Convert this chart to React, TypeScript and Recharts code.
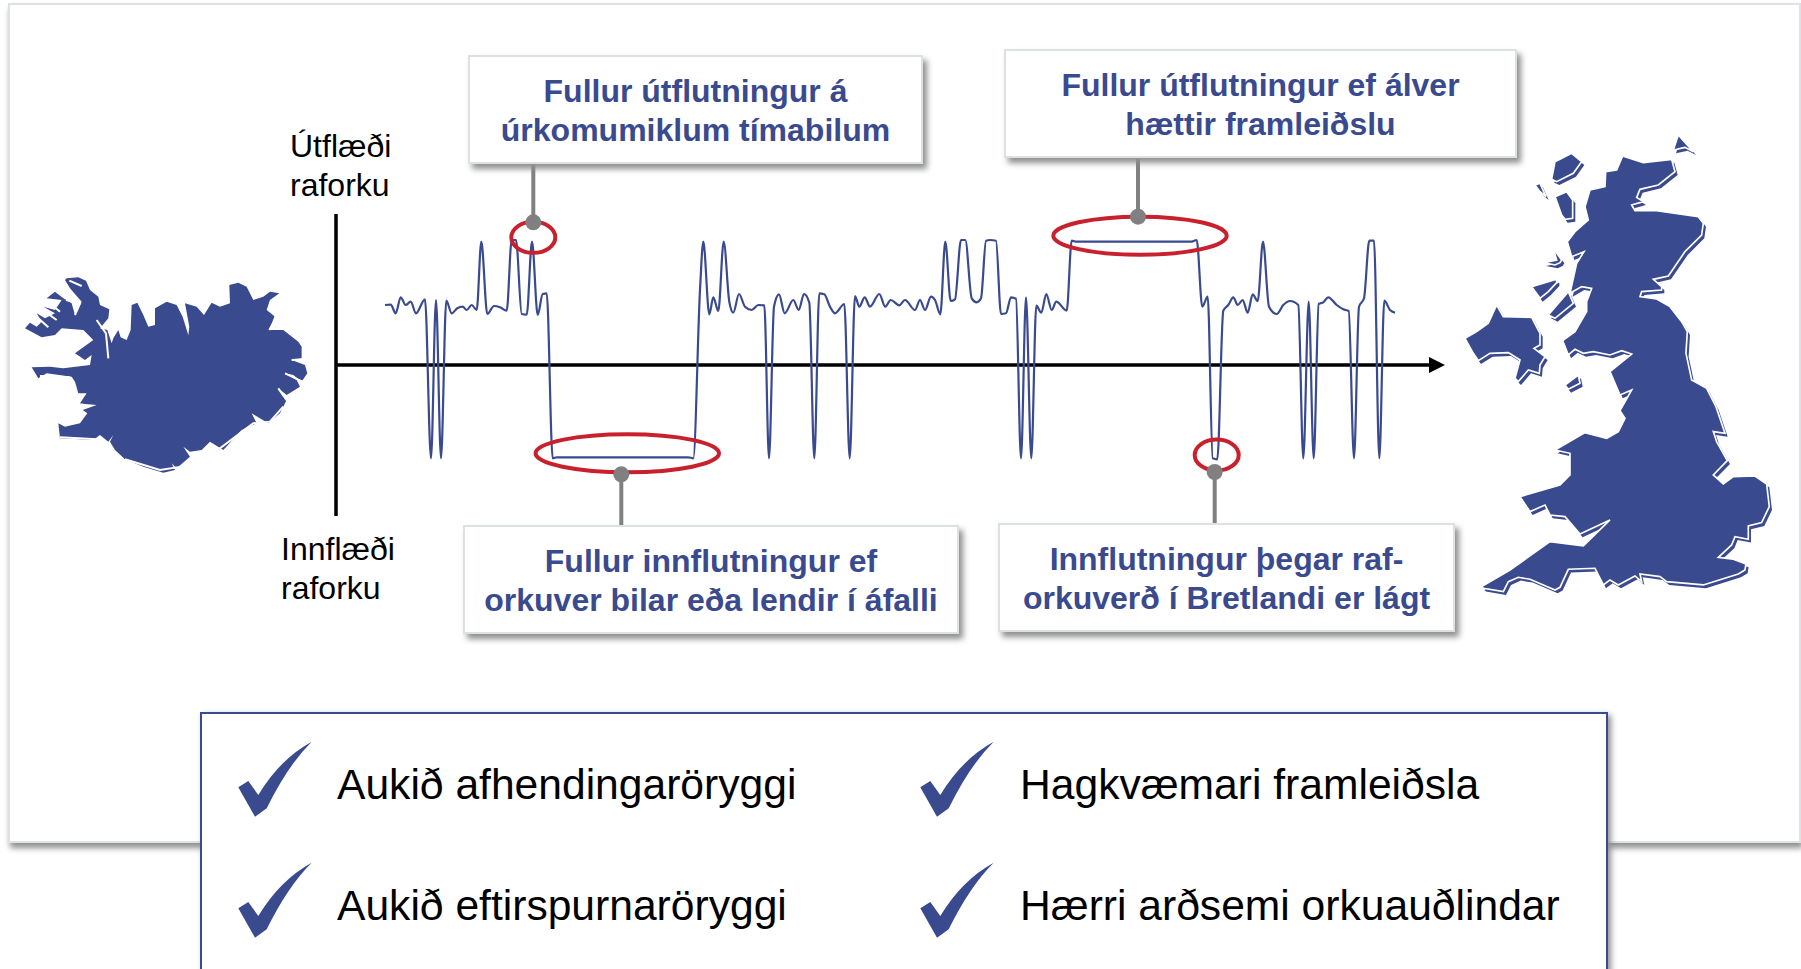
import { ComposedChart, Line, XAxis, YAxis, ReferenceLine, ReferenceDot } from 'recharts';

const hours = [
  49, 54.7, 59.7, 64.7, 69.7, 74.7, 80, 89, 95, 100, 105, 110.3, 115.7, 121.3, 126.7, 130.7, 135.7, 140.7, 145.3, 151.3,
  158, 164, 170.7, 175.7, 180, 185.7, 190.7, 196, 201.7, 206.7, 210.7, 216.7, 220.7, 352.3, 357.3, 364, 367.3, 373.3,
  377.3, 382.3, 387.7, 393.3, 397.3, 403, 409, 415.7, 422.3, 428.3, 433, 438, 443, 448.7, 457.3, 462.7, 468, 473.3,
  478.3, 483.3, 488.3, 494, 499, 508.3, 513.7, 519, 523.3, 528.7, 534, 543.3, 549.3, 554.7, 563.3, 569, 579, 584, 589,
  595, 599, 604.3, 609.3, 614.7, 619, 625, 629.3, 635.7, 640.7, 645, 650, 654, 660, 665, 670, 675, 680, 685, 690, 695.3,
  700.3, 705.3, 710.3, 715.7, 720.3, 730.7, 735.7, 740.7, 855.7, 860.7, 866.3, 871.7, 876.7, 881.3, 887.3, 892.3, 897.3,
  901.7, 906.7, 911.7, 916.7, 921.7, 927, 933, 940.7, 947.3, 954, 962.3, 967.3, 972.7, 977.7, 982.7, 987.3, 992.3,
  1000.7, 1007.3, 1012.7, 1018, 1023, 1028, 1033.3, 1038, 1043.3, 1048.3, 1054, 1059,
];

const balance = [
  60, 60.3, 51.7, 67.7, 60, 63.3, 51.7, 65.7, -93.3, 65, -93.3, 64.3, 51.7, 56.7, 58.3, 55, 60, 55, 123.3, 51,
  59, 57.7, 54.3, 125, 125, 51, 50.3, 123.3, 50, 71, 71.7, -93.3, -92.3, -92.3, -93.3, 75, 123.3, 50.7,
  67.7, 54, 123.3, 63.3, 52.3, 71, 58.3, 55, 60, 59.7, -93.3, 58.3, 70.7, 51.7, 65, 55, 71, 62.3,
  -93.3, 71.7, 70.7, 58.3, 51.7, 61, -93.3, 69, 58.3, 67.7, 58.3, 71, 58.3, 65, 59.7, 65, 55, 65, 55,
  68.3, 65, 50.7, 123.3, 64, 65.7, 125, 125, 66.7, 62.7, 66.7, 124.3, 125, 124.3, 51, 51.7, 67.7, 66.3, -93.3, 67.7, -93.3,
  59.3, 52.3, 71, 55, 63.3, 54.3, 124.3, 123.3, 123.3, 125, 58.3, 68.3, -93.3, -94.3, 54.3, 60, 67.7,
  60, 65, 52.3, 70.7, 64, 123.3, 58.3, 51, 60, 64, 60, -93.3, 63.3, -93.3, 61, 62.7, 67.7,
  60, 55.7, 54, -93.3, 58.3, 66.7, 124.3, 124.3, -93.3, 64.3, 55, 52.3,
];

const flowData = hours.map((hour, i) => ({ hour, balance: balance[i] }));

const BLUE = '#3a4a8f';
const RED = '#c8202c';
const GREY = '#808080';

const iceland =
  'M200,85 L235,82 L258,92 L270,120 L295,140 L300,165 L328,178 L325,205 L300,235 L322,240 L335,280 L340,265 L355,240 L362,262 L380,270 L392,240 L395,165 L412,158 L430,195 L445,230 L465,225 L465,175 L500,155 L530,165 L548,200 L565,255 L568,230 L555,160 L590,170 L612,195 L635,158 L660,170 L690,160 L688,105 L715,98 L740,110 L760,150 L790,140 L810,125 L838,130 L810,150 L800,180 L825,195 L808,240 L850,240 L895,275 L905,290 L905,325 L875,330 L915,345 L922,370 L905,395 L880,375 L855,370 L890,390 L900,410 L860,435 L835,415 L860,450 L840,490 L805,520 L755,490 L770,520 L725,540 L670,600 L630,575 L605,600 L570,605 L550,590 L570,620 L530,655 L515,640 L525,660 L490,668 L430,650 L375,628 L345,600 L330,575 L340,555 L325,575 L300,555 L280,570 L180,565 L175,520 L195,530 L240,520 L262,490 L248,480 L290,465 L255,462 L240,460 L260,430 L235,430 L225,395 L215,380 L140,370 L115,385 L95,352 L150,350 L190,355 L270,345 L275,315 L255,330 L225,310 L280,270 L250,240 L185,235 L165,255 L125,262 L75,235 L90,218 L110,230 L125,215 L110,190 L135,205 L165,190 L130,170 L165,180 L185,150 L140,145 L165,125 L190,145 L215,160 L225,195 L245,155 L210,115 L195,90 Z';

const icelandInlets = [
  'M375,628 L480,660 L545,650 L590,610 L660,595 L760,520 L810,515 L850,470',
  'M208,92 L245,108',
  'M198,150 L240,160 L225,195',
  'M150,160 L180,185',
  'M135,185 L170,210',
  'M110,200 L145,232',
  'M290,210 L318,250 L325,325',
  'M805,180 L830,200 L808,240',
  'M875,330 L912,328',
  'M855,370 L908,395',
  'M835,415 L868,462',
  'M120,378 L210,382',
  'M180,562 L290,568',
];

const britain = [
  'M548,108 L610,128 L695,118 L705,155 L655,195 L600,208 L590,232 L610,245 L575,255 L585,272 L650,272 L775,290 L790,310 L785,345 L735,395 L685,468 L640,478 L665,500 L665,510 L605,515 L600,530 L650,537 L690,560 L725,605 L742,635 L738,700 L755,780 L800,805 L828,860 L855,940 L820,935 L830,965 L862,1022 L820,1065 L850,1092 L880,1070 L945,1068 L980,1092 L988,1160 L965,1208 L925,1218 L925,1258 L885,1250 L875,1275 L835,1312 L880,1318 L918,1332 L915,1350 L895,1362 L790,1395 L680,1385 L660,1370 L600,1362 L605,1385 L585,1368 L535,1395 L510,1380 L490,1395 L465,1345 L385,1348 L360,1402 L345,1410 L270,1378 L235,1372 L205,1385 L190,1415 L130,1405 L125,1400 L210,1350 L330,1265 L430,1278 L510,1200 L420,1242 L375,1190 L330,1185 L315,1155 L270,1175 L240,1130 L360,1095 L390,1065 L390,1000 L345,990 L435,938 L500,955 L535,935 L555,895 L540,872 L575,810 L540,825 L510,755 L575,702 L545,692 L510,705 L460,695 L430,700 L405,688 L385,705 L368,662 L405,635 L440,575 L440,545 L455,505 L425,500 L390,520 L410,430 L432,395 L395,410 L382,365 L405,335 L445,300 L435,260 L450,210 L495,200 L497,155 L530,150 Z',
  'M75,655 L110,635 L145,610 L170,555 L190,590 L275,592 L300,640 L300,675 L282,685 L315,710 L300,735 L298,760 L265,750 L235,785 L225,775 L240,720 L205,698 L150,700 L115,722 L100,700 Z',
  'M345,125 L395,100 L425,125 L400,160 L350,185 L335,178 Z',
  'M345,230 L380,215 L398,240 L398,295 L375,298 L365,285 Z',
  'M285,195 L300,190 L318,230 L300,215 Z',
  'M715,45 L760,95 L735,82 L700,90 Z',
  'M340,385 L365,420 L360,428 L345,435 L310,428 L350,420 Z',
  'M275,500 L310,490 L350,478 L350,488 L325,515 L300,535 Z',
  'M325,585 L385,515 L400,550 L345,595 Z',
  'M375,795 L415,765 L420,790 L385,808 Z',
];

const callouts = [
  { lines: ['Fullur útflutningur á', 'úrkomumiklum tímabilum'], left: 468, top: 55, width: 455, height: 109 },
  { lines: ['Fullur útflutningur ef álver', 'hættir framleiðslu'], left: 1004, top: 49, width: 513, height: 109 },
  { lines: ['Fullur innflutningur ef', 'orkuver bilar eða lendir í áfalli'], left: 463, top: 525, width: 496, height: 109 },
  { lines: ['Innflutningur þegar raf-', 'orkuverð í Bretlandi er lágt'], left: 998, top: 523, width: 457, height: 109 },
];

const rings = [
  { hour: 197.3, level: 127.7, rx: 22, ry: 15.5, pinX: 0, pinY: -15, stem: -58 },
  { hour: 291.3, level: -88.3, rx: 91.7, ry: 19, pinX: -6, pinY: 21, stem: 52 },
  { hour: 804, level: 129.3, rx: 86.7, ry: 19, pinX: -2, pinY: -19, stem: -58 },
  { hour: 880.7, level: -90, rx: 22, ry: 15.5, pinX: -2, pinY: 17, stem: 52 },
];

const benefits = [
  { text: 'Aukið afhendingaröryggi', col: 0, row: 0 },
  { text: 'Hagkvæmari framleiðsla', col: 1, row: 0 },
  { text: 'Aukið eftirspurnaröryggi', col: 0, row: 1 },
  { text: 'Hærri arðsemi orkuauðlindar', col: 1, row: 1 },
];

const FONT = '"Liberation Sans", Arial, sans-serif';

function Ring({ cx, cy, rx, ry, pinX, pinY, stem }: any) {
  const px = cx + pinX;
  const py = cy + pinY;
  return (
    <g>
      <ellipse cx={cx} cy={cy} rx={rx} ry={ry} fill="none" stroke={RED} strokeWidth={4} />
      <line x1={px} y1={py} x2={px} y2={py + stem} stroke={GREY} strokeWidth={4} />
      <circle cx={px} cy={py} r={8} fill={GREY} />
    </g>
  );
}

function ArrowHead({ cx, cy }: any) {
  return <path d={`M${cx - 16},${cy - 8} L${cx},${cy} L${cx - 16},${cy + 8} Z`} fill="#000" />;
}

export default function App() {
  return (
    <div style={{ position: 'fixed', left: 0, top: 0, width: 1801, height: 969, overflow: 'hidden', background: '#fff', fontFamily: FONT }}>
      {/* slide card */}
      <div style={{ position: 'absolute', left: 8, top: 3, width: 1789, height: 836, background: '#fff', border: '2px solid #dde3e2', boxShadow: '2px 5px 6px #8f8f8f' }} />

      <svg width={1801} height={969} style={{ position: 'absolute', left: 0, top: 0 }}>
        <g transform="translate(0,250) scale(0.3333)">
          <path d={iceland} fill={BLUE} />
          {icelandInlets.map((d, i) => <path key={i} d={d} fill="none" stroke="#fff" strokeWidth={6} />)}
        </g>
        <g transform="translate(1440,120) scale(0.3333)">
          {/* offset copy first, so the coast keeps its white gap and shadow */}
          <g transform="translate(8,10)">
            {britain.map((d, i) => <path key={i} d={d} fill={BLUE} />)}
          </g>
          {britain.map((d, i) => <path key={i} d={d} fill={BLUE} stroke="#fff" strokeWidth={5} />)}
        </g>
      </svg>

      <div style={{ position: 'absolute', left: 0, top: 0 }}>
        <ComposedChart width={1801} height={969} data={flowData} margin={{ top: 214, bottom: 453, left: 336, right: 356 }}>
          <XAxis dataKey="hour" type="number" domain={[0, 1109]} hide />
          <YAxis type="number" domain={[-151, 151]} hide />
          <ReferenceLine x={0} stroke="#000" strokeWidth={3.5} />
          <ReferenceLine segment={[{ x: 0, y: 0 }, { x: 1096, y: 0 }]} stroke="#000" strokeWidth={3.5} />
          <ReferenceDot x={1109} y={0} r={1} shape={ArrowHead} />
          <Line type="monotone" dataKey="balance" stroke={BLUE} strokeWidth={2.2} dot={false} isAnimationActive={false} />
          {rings.map((r, i) => (
            <ReferenceDot key={i} x={r.hour} y={r.level} r={1} shape={(p: any) => <Ring {...p} {...r} cx={p.cx} cy={p.cy} />} />
          ))}
        </ComposedChart>
      </div>

      <div style={{ position: 'absolute', left: 290, top: 127, fontSize: 32, lineHeight: '39px', color: '#000' }}>Útflæði<br />raforku</div>
      <div style={{ position: 'absolute', left: 281, top: 530, fontSize: 32, lineHeight: '39px', color: '#000' }}>Innflæði<br />raforku</div>

      {callouts.map((c, i) => (
        <div
          key={i}
          style={{
            position: 'absolute', left: c.left, top: c.top, width: c.width, height: c.height, boxSizing: 'border-box',
            background: '#fff', border: '2.5px solid #dbe2e0', boxShadow: '4px 5px 6px #8f8f8f', color: BLUE,
            fontWeight: 700, fontSize: 32, lineHeight: '39px', textAlign: 'center', paddingTop: 15, whiteSpace: 'nowrap',
          }}
        >
          {c.lines[0]}<br />{c.lines[1]}
        </div>
      ))}

      {/* benefits box */}
      <div style={{ position: 'absolute', left: 200, top: 712, width: 1404, height: 300, background: '#fff', border: '2px solid #3a4a8f', boxShadow: '3px 3px 6px #8f8f8f' }} />
      {benefits.map((b, i) => (
        <div key={i}>
          <svg width={90} height={90} style={{ position: 'absolute', left: 230 + b.col * 682, top: 735 + b.row * 121 }}>
            <path d="M8.3,52.3 L18.3,46 L28.3,60 Q50,24 81.7,6.7 Q58,30 36.7,73.3 L25,81.7 Z" fill={BLUE} />
          </svg>
          <div style={{ position: 'absolute', left: 337 + b.col * 683, top: 760 + b.row * 121, fontSize: 42.6, lineHeight: '48px', color: '#000', whiteSpace: 'nowrap' }}>{b.text}</div>
        </div>
      ))}
    </div>
  );
}
